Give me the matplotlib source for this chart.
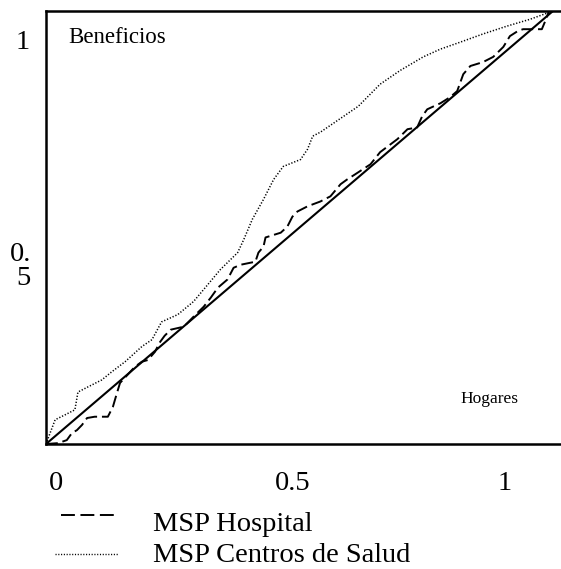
import matplotlib
matplotlib.use("Agg")
import matplotlib.pyplot as plt
from matplotlib.lines import Line2D

plt.rcParams['lines.scale_dashes'] = False
SERIF = ['Liberation Serif', 'DejaVu Serif']

# Concentration curves (share of households vs share of benefits)
hosp_x = [0, 0.024, 0.041, 0.051, 0.061, 0.071, 0.081, 0.096, 0.122, 0.132, 0.140, 0.146,
          0.161, 0.175, 0.189, 0.201, 0.215, 0.224, 0.234, 0.246, 0.272, 0.291, 0.311,
          0.325, 0.339, 0.358, 0.370, 0.384, 0.413, 0.419, 0.429, 0.433, 0.463, 0.476,
          0.486, 0.496, 0.516, 0.541, 0.561, 0.581, 0.594, 0.610, 0.640, 0.659, 0.693,
          0.713, 0.732, 0.742, 0.752, 0.778, 0.797, 0.811, 0.823, 0.837, 0.862, 0.882,
          0.902, 0.915, 0.931, 0.941, 0.978, 0.988, 0.992, 1.0]
hosp_y = [0, 0.002, 0.009, 0.025, 0.032, 0.044, 0.060, 0.063, 0.063, 0.086, 0.118, 0.141,
          0.160, 0.178, 0.190, 0.194, 0.213, 0.234, 0.250, 0.264, 0.271, 0.294, 0.317,
          0.338, 0.361, 0.380, 0.407, 0.414, 0.421, 0.442, 0.456, 0.477, 0.488, 0.502,
          0.525, 0.537, 0.549, 0.560, 0.572, 0.600, 0.611, 0.623, 0.646, 0.674, 0.704,
          0.727, 0.731, 0.757, 0.773, 0.787, 0.801, 0.815, 0.854, 0.873, 0.882, 0.894,
          0.917, 0.942, 0.954, 0.958, 0.958, 0.986, 1.0, 1.0]

cs_x = [0, 0.008, 0.018, 0.037, 0.057, 0.063, 0.083, 0.110, 0.130, 0.156, 0.189, 0.209,
        0.228, 0.260, 0.291, 0.319, 0.344, 0.378, 0.390, 0.407, 0.429, 0.449, 0.468,
        0.502, 0.516, 0.526, 0.541, 0.581, 0.616, 0.659, 0.699, 0.744, 0.778, 0.817,
        0.862, 0.909, 0.955, 0.988, 1.0]
cs_y = [0, 0.025, 0.056, 0.067, 0.079, 0.120, 0.132, 0.148, 0.167, 0.190, 0.225, 0.241,
        0.282, 0.299, 0.329, 0.368, 0.403, 0.442, 0.472, 0.519, 0.565, 0.611, 0.641,
        0.657, 0.681, 0.711, 0.720, 0.752, 0.780, 0.831, 0.863, 0.894, 0.912, 0.928,
        0.947, 0.965, 0.981, 0.995, 1.0]

eq_x = [0, 1.02]
eq_y = [0, 1.02]

series_labels = ['MSP Hospital', 'MSP Centros de Salud']
x_tick_labels = ['0', '0.5', '1']
y_tick_labels = ['1', '0.\n5']

W, H = 561, 569
fig = plt.figure(figsize=(W / 100, H / 100), dpi=100)

def fx(px):
    return px / W

def fy(py):
    return 1 - py / H

left, right, top, bottom = 46, 561, 11, 444
ax = fig.add_axes([fx(left), fy(bottom), fx(right) - fx(left), fy(top) - fy(bottom)])
ax.set_xlim(0, (right - left) / 507)
ax.set_ylim(0, 1)
ax.set_xticks([])
ax.set_yticks([])
for s in ['left', 'bottom', 'top']:
    ax.spines[s].set_linewidth(1.8)
    ax.spines[s].set_color('black')
ax.spines['right'].set_visible(False)

ax.plot(eq_x, eq_y, color='black', lw=1.5, solid_capstyle='butt')
ax.plot(hosp_x, hosp_y, color='black', lw=1.4, dashes=(8.5, 3.5))
ax.plot(cs_x, cs_y, color='black', lw=1.1, dashes=(0.9, 1.3))

FS = 20.5
# In-plot labels
fig.text(fx(68), fy(43), 'Beneficios', family=SERIF, fontsize=16.5, va='baseline', ha='left')
fig.text(fx(460), fy(403), 'Hogares', family=SERIF, fontsize=12.5, va='baseline', ha='left')

# Axis labels
fig.text(fx(23), fy(49), y_tick_labels[0], family=SERIF, fontsize=FS, va='baseline', ha='center')
fig.text(fx(31), fy(285), y_tick_labels[1], family=SERIF, fontsize=FS, va='baseline', ha='right',
         multialignment='right', linespacing=0.95)
for lab, px in zip(x_tick_labels, [56, 293, 505]):
    fig.text(fx(px), fy(490), lab, family=SERIF, fontsize=FS, va='baseline', ha='center')

# Legend
fig.add_artist(Line2D([fx(61), fx(115)], [fy(515), fy(515)], color='black', lw=1.4,
                      dashes=(10, 4)))
fig.add_artist(Line2D([fx(55), fx(118)], [fy(554), fy(554)], color='black', lw=1.0,
                      dashes=(0.8, 1.2)))
fig.text(fx(153), fy(531), series_labels[0], family=SERIF, fontsize=FS, va='baseline', ha='left')
fig.text(fx(153), fy(562), series_labels[1], family=SERIF, fontsize=FS, va='baseline', ha='left')

fig.savefig('out.png', dpi=100)
